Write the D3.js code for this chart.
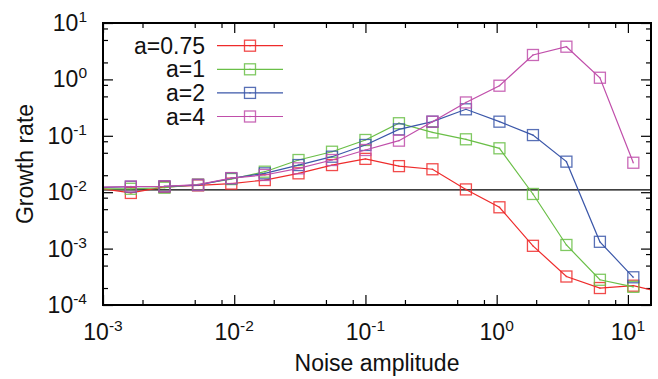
<!DOCTYPE html>
<html>
<head>
<meta charset="utf-8">
<script src="https://cdn.jsdelivr.net/npm/d3@7"></script>
<style>
  body { margin: 0; background: #fff; }
  svg { font-family: "Liberation Sans", Arial, Helvetica, sans-serif; }
</style>
</head>
<body>
<div id="chart"></div>
<script>
// Noise amplitudes (shared x positions of all curves)
const noise = [0.00091, 0.00163, 0.00294, 0.0053, 0.0095, 0.0171, 0.0309, 0.0556,
               0.1, 0.18, 0.324, 0.583, 1.05, 1.89, 3.4, 6.12, 11.0, 19.8];

// Growth rate per series
const rateA075 = [0.0118, 0.0097, 0.0124, 0.0132, 0.0142, 0.0164, 0.0216, 0.0303,
                  0.039, 0.029, 0.0255, 0.0112, 0.0054, 0.00112, 0.00032, 0.0002, 0.00022, 0.00016];
const rateA1   = [0.0115, 0.0115, 0.0120, 0.0137, 0.0171, 0.0231, 0.0372, 0.0522,
                  0.0843, 0.167, 0.115, 0.0867, 0.060, 0.0093, 0.00116, 0.00028, 0.00021];
const rateA2   = [0.0121, 0.0125, 0.0127, 0.0134, 0.0176, 0.0216, 0.0303, 0.0426,
                  0.0688, 0.130, 0.178, 0.295, 0.178, 0.103, 0.0348, 0.00132, 0.00031];
const rateA4   = [0.0122, 0.0126, 0.0127, 0.0136, 0.0178, 0.0202, 0.0265, 0.0372,
                  0.056, 0.082, 0.178, 0.39, 0.773, 2.71, 3.8, 1.07, 0.0333];

const seriesNames = ["a=0.75", "a=1", "a=2", "a=4"];
const seriesColors = ["#ee2b2b", "#6abf47", "#3b57a9", "#c04eaa"];
const refLevel = 0.011;

const xTickExp = [-3, -2, -1, 0, 1];
const yTickExp = [1, 0, -1, -2, -3, -4];
const minorMult = [2, 5, 8];

const series = [rateA075, rateA1, rateA2, rateA4].map((vals, i) => ({
  name: seriesNames[i],
  color: seriesColors[i],
  points: vals.map((v, j) => ({x: noise[j], y: v}))
}));

// Dimensions
const W = 658, H = 379;
const margin = {top: 23, right: 7, bottom: 74, left: 103};
const width = W - margin.left - margin.right;
const height = H - margin.top - margin.bottom;

const svgRoot = d3.select("#chart").append("svg")
  .attr("width", W)
  .attr("height", H);

const svg = svgRoot.append("g")
  .attr("transform", `translate(${margin.left},${margin.top})`);

// Scales
const x = d3.scaleLog().domain([1e-3, 15]).range([0, width]);
const y = d3.scaleLog().domain([1e-4, 10]).range([height, 0]);

// Tick values
const xMajor = xTickExp.map(e => Math.pow(10, e));
const yMajor = yTickExp.map(e => Math.pow(10, e));
const xMinor = [];
for (let e = -3; e <= 1; e++) minorMult.forEach(m => {
  const v = m * Math.pow(10, e);
  if (v < 15) xMinor.push(v);
});
const yMinor = [];
for (let e = -4; e < 1; e++) minorMult.forEach(m => yMinor.push(m * Math.pow(10, e)));

// Ticks on all four sides, pointing inward
function addAxis(axisFn, values, size, transform) {
  const g = svg.append("g")
    .attr("transform", transform)
    .call(axisFn.tickValues(values).tickSize(-size).tickFormat(""));
  g.select(".domain").remove();
  g.selectAll("line").attr("stroke", "#000").attr("stroke-width", 1.2);
}
addAxis(d3.axisBottom(x), xMajor, 10, `translate(0,${height})`);
addAxis(d3.axisBottom(x), xMinor, 5, `translate(0,${height})`);
addAxis(d3.axisTop(x), xMajor, 10, "translate(0,0)");
addAxis(d3.axisTop(x), xMinor, 5, "translate(0,0)");
addAxis(d3.axisLeft(y), yMajor, 10, "translate(0,0)");
addAxis(d3.axisLeft(y), yMinor, 5, "translate(0,0)");
addAxis(d3.axisRight(y), yMajor, 10, `translate(${width},0)`);
addAxis(d3.axisRight(y), yMinor, 5, `translate(${width},0)`);

// Tick labels with superscript exponents
function powerLabel(sel, exp) {
  sel.append("tspan").text("10");
  sel.append("tspan")
    .attr("font-size", 15.5)
    .attr("dy", -9)
    .text(String(exp));
}

xTickExp.forEach(e => {
  const t = svg.append("text")
    .attr("x", x(Math.pow(10, e)))
    .attr("y", height + 35)
    .attr("text-anchor", "middle")
    .attr("font-size", 23)
    .attr("fill", "#111");
  powerLabel(t, e);
});

yTickExp.forEach(e => {
  const t = svg.append("text")
    .attr("x", -16)
    .attr("y", y(Math.pow(10, e)) + 8)
    .attr("text-anchor", "end")
    .attr("font-size", 23)
    .attr("fill", "#111");
  powerLabel(t, e);
});

// Axis titles
svg.append("text")
  .attr("x", width / 2)
  .attr("y", height + 66)
  .attr("text-anchor", "middle")
  .attr("font-size", 23)
  .attr("fill", "#111")
  .text("Noise amplitude");

svg.append("text")
  .attr("transform", `translate(${33 - margin.left},${height / 2}) rotate(-90)`)
  .attr("text-anchor", "middle")
  .attr("font-size", 23)
  .attr("fill", "#111")
  .text("Growth rate");

// Clip region for the curves
svgRoot.append("defs").append("clipPath")
  .attr("id", "plot-clip")
  .append("rect")
  .attr("width", width)
  .attr("height", height);

const plot = svg.append("g").attr("clip-path", "url(#plot-clip)");

// Reference level
plot.append("line")
  .attr("x1", 0)
  .attr("x2", width)
  .attr("y1", y(refLevel))
  .attr("y2", y(refLevel))
  .attr("stroke", "#000")
  .attr("stroke-width", 1.3);

const line = d3.line()
  .x(d => x(d.x))
  .y(d => y(d.y));

const markerSize = 11;

function drawMarker(g, cx, cy, color) {
  g.append("rect")
    .attr("x", cx - markerSize / 2)
    .attr("y", cy - markerSize / 2)
    .attr("width", markerSize)
    .attr("height", markerSize)
    .attr("fill", "none")
    .attr("stroke", color)
    .attr("stroke-width", 1.3)
    .attr("stroke-opacity", 0.85);
  g.append("rect")
    .attr("x", cx - 0.75)
    .attr("y", cy - 0.75)
    .attr("width", 1.5)
    .attr("height", 1.5)
    .attr("fill", color)
    .attr("opacity", 0.6);
}

series.forEach(s => {
  plot.append("path")
    .datum(s.points)
    .attr("fill", "none")
    .attr("stroke", s.color)
    .attr("stroke-width", 1.2)
    .attr("d", line);

  s.points
    .filter(d => d.x >= 1e-3 && d.x <= 15)
    .forEach(d => drawMarker(plot, x(d.x), y(d.y), s.color));
});

// Legend
const legend = svg.append("g");
series.forEach((s, i) => {
  const ly = 22.7 + i * 23.6;
  legend.append("text")
    .attr("x", 205 - margin.left)
    .attr("y", ly + 8)
    .attr("text-anchor", "end")
    .attr("font-size", 23)
    .attr("fill", "#111")
    .text(s.name);
  legend.append("line")
    .attr("x1", 217 - margin.left)
    .attr("x2", 283 - margin.left)
    .attr("y1", ly)
    .attr("y2", ly)
    .attr("stroke", s.color)
    .attr("stroke-width", 1.2);
  drawMarker(legend, 250 - margin.left, ly, s.color);
});

// Frame
svg.append("rect")
  .attr("width", width)
  .attr("height", height)
  .attr("fill", "none")
  .attr("stroke", "#000")
  .attr("stroke-width", 2);
</script>
</body>
</html>
